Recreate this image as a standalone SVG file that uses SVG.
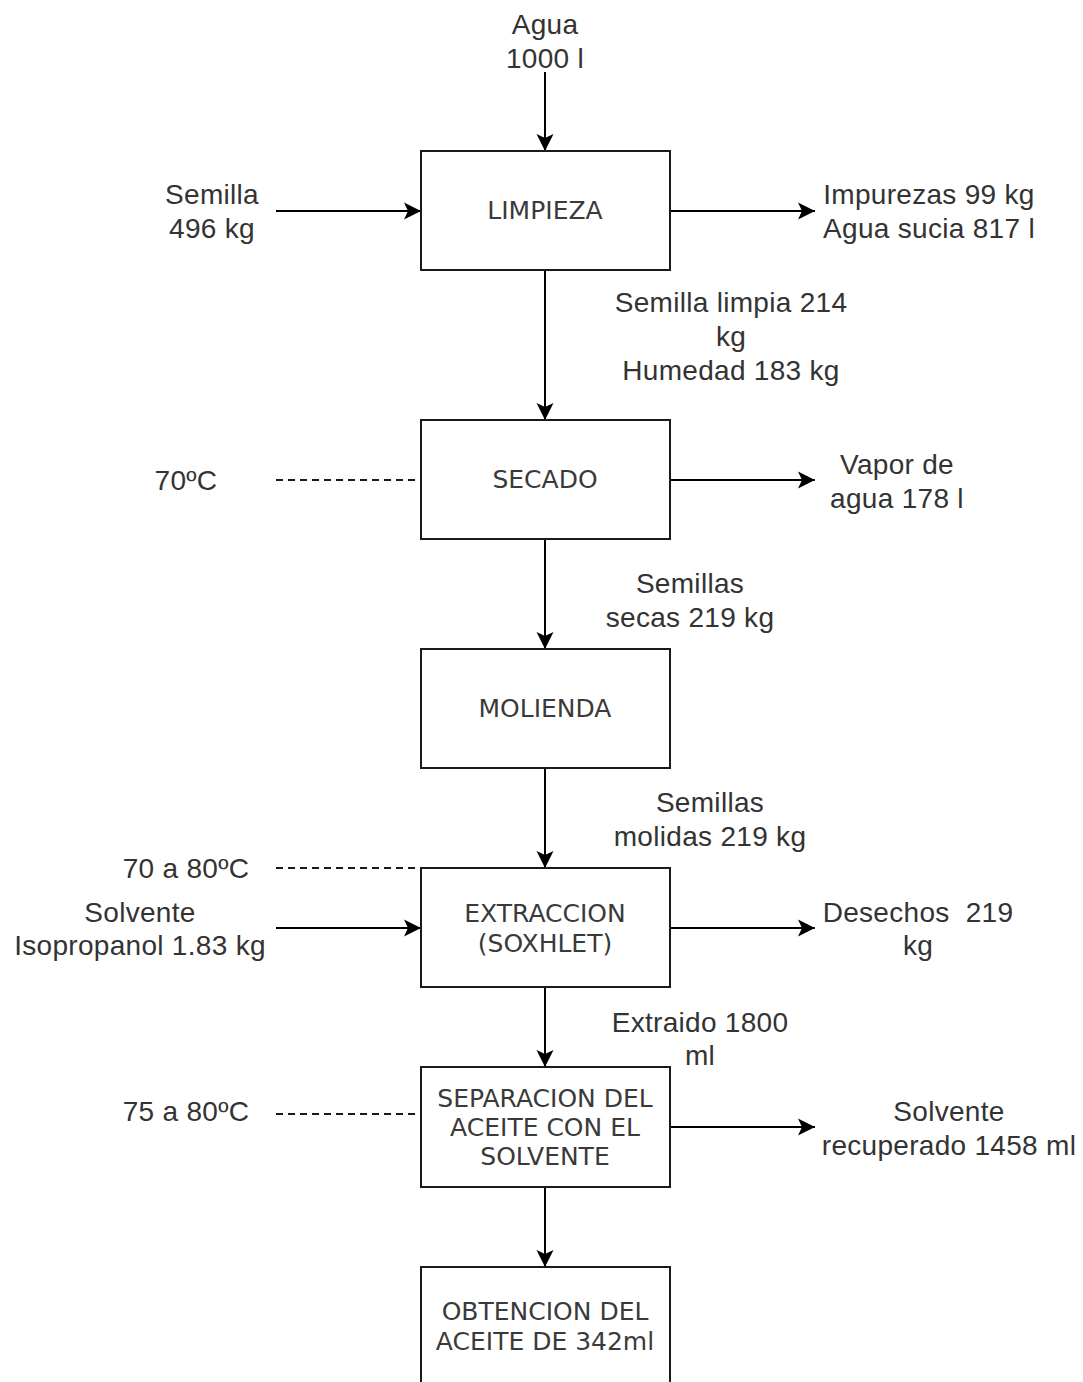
<svg xmlns="http://www.w3.org/2000/svg" width="1083" height="1382" viewBox="0 0 1083 1382">
  <style>
    .box { fill: #ffffff; stroke: #1a1a1a; stroke-width: 2; }
    .btxt { font-family: "DejaVu Sans", Verdana, sans-serif; font-size: 25px; fill: #3a3a3a; text-anchor: middle; }
    .lbl { font-family: "Liberation Sans", Arial, sans-serif; font-size: 28px; fill: #333333; text-anchor: middle; letter-spacing: 0.3px; white-space: pre; }
    .flow { fill: none; stroke: #000000; stroke-width: 2; marker-end: url(#arrow); }
    .dash { fill: none; stroke: #1a1a1a; stroke-width: 2; stroke-dasharray: 7 5; }
  </style>
  <defs>
    <marker id="arrow" markerUnits="userSpaceOnUse" markerWidth="20" markerHeight="20" refX="18" refY="10" orient="auto">
      <path d="M1,1.5 L18,10 L1,18.5 L5,10 Z" fill="#000000"/>
    </marker>
  </defs>
  <rect width="1083" height="1382" fill="#ffffff"/>

  <!-- connectors -->
  <g id="connectors">
    <line class="flow" x1="545" y1="72" x2="545" y2="151"/>
    <line class="flow" x1="276" y1="211" x2="421" y2="211"/>
    <line class="flow" x1="670" y1="211" x2="815" y2="211"/>
    <line class="flow" x1="545" y1="270" x2="545" y2="420"/>
    <line class="dash" x1="276" y1="480" x2="421" y2="480"/>
    <line class="flow" x1="670" y1="480" x2="815" y2="480"/>
    <line class="flow" x1="545" y1="539" x2="545" y2="649"/>
    <line class="flow" x1="545" y1="768" x2="545" y2="868"/>
    <line class="dash" x1="276" y1="868" x2="421" y2="868"/>
    <line class="flow" x1="276" y1="928" x2="421" y2="928"/>
    <line class="flow" x1="670" y1="928" x2="815" y2="928"/>
    <line class="flow" x1="545" y1="987" x2="545" y2="1067"/>
    <line class="dash" x1="276" y1="1114" x2="421" y2="1114"/>
    <line class="flow" x1="670" y1="1127" x2="815" y2="1127"/>
    <line class="flow" x1="545" y1="1187" x2="545" y2="1267"/>
  </g>

  <!-- process steps -->
  <g id="limpieza">
    <rect class="box" x="421" y="151" width="249" height="119"/>
    <text class="btxt" x="545" y="219">LIMPIEZA</text>
  </g>
  <g id="secado">
    <rect class="box" x="421" y="420" width="249" height="119"/>
    <text class="btxt" x="545" y="488">SECADO</text>
  </g>
  <g id="molienda">
    <rect class="box" x="421" y="649" width="249" height="119"/>
    <text class="btxt" x="545" y="717">MOLIENDA</text>
  </g>
  <g id="extraccion">
    <rect class="box" x="421" y="868" width="249" height="119"/>
    <text class="btxt" x="545" y="922">EXTRACCION</text>
    <text class="btxt" x="545" y="952">(SOXHLET)</text>
  </g>
  <g id="separacion">
    <rect class="box" x="421" y="1067" width="249" height="120"/>
    <text class="btxt" x="545" y="1107">SEPARACION DEL</text>
    <text class="btxt" x="545" y="1136">ACEITE CON EL</text>
    <text class="btxt" x="545" y="1165">SOLVENTE</text>
  </g>
  <g id="obtencion">
    <rect class="box" x="421" y="1267" width="249" height="125"/>
    <text class="btxt" x="545" y="1320">OBTENCION DEL</text>
    <text class="btxt" x="545" y="1350">ACEITE DE 342ml</text>
  </g>

  <!-- stream labels -->
  <g id="lbl-agua">
    <text class="lbl" x="545" y="34">Agua</text>
    <text class="lbl" x="545" y="68">1000 l</text>
  </g>
  <g id="lbl-semilla">
    <text class="lbl" x="212" y="204">Semilla</text>
    <text class="lbl" x="212" y="238">496 kg</text>
  </g>
  <g id="lbl-impurezas">
    <text class="lbl" x="929" y="204">Impurezas 99 kg</text>
    <text class="lbl" x="929" y="238">Agua sucia 817 l</text>
  </g>
  <g id="lbl-semilla-limpia">
    <text class="lbl" x="731" y="312">Semilla limpia 214</text>
    <text class="lbl" x="731" y="346">kg</text>
    <text class="lbl" x="731" y="380">Humedad 183 kg</text>
  </g>
  <g id="lbl-temp-secado">
    <text class="lbl" x="186" y="490">70ºC</text>
  </g>
  <g id="lbl-vapor">
    <text class="lbl" x="897" y="474">Vapor de</text>
    <text class="lbl" x="897" y="508">agua 178 l</text>
  </g>
  <g id="lbl-secas">
    <text class="lbl" x="690" y="593">Semillas</text>
    <text class="lbl" x="690" y="627">secas 219 kg</text>
  </g>
  <g id="lbl-molidas">
    <text class="lbl" x="710" y="812">Semillas</text>
    <text class="lbl" x="710" y="846">molidas 219 kg</text>
  </g>
  <g id="lbl-temp-extraccion">
    <text class="lbl" x="186" y="878">70 a 80ºC</text>
  </g>
  <g id="lbl-solvente">
    <text class="lbl" x="140" y="922">Solvente</text>
    <text class="lbl" x="140" y="955">Isopropanol 1.83 kg</text>
  </g>
  <g id="lbl-desechos">
    <text class="lbl" x="918" y="922">Desechos  219</text>
    <text class="lbl" x="918" y="955">kg</text>
  </g>
  <g id="lbl-extraido">
    <text class="lbl" x="700" y="1032">Extraido 1800</text>
    <text class="lbl" x="700" y="1065">ml</text>
  </g>
  <g id="lbl-temp-separacion">
    <text class="lbl" x="186" y="1121">75 a 80ºC</text>
  </g>
  <g id="lbl-recuperado">
    <text class="lbl" x="949" y="1121">Solvente</text>
    <text class="lbl" x="949" y="1155">recuperado 1458 ml</text>
  </g>
</svg>
